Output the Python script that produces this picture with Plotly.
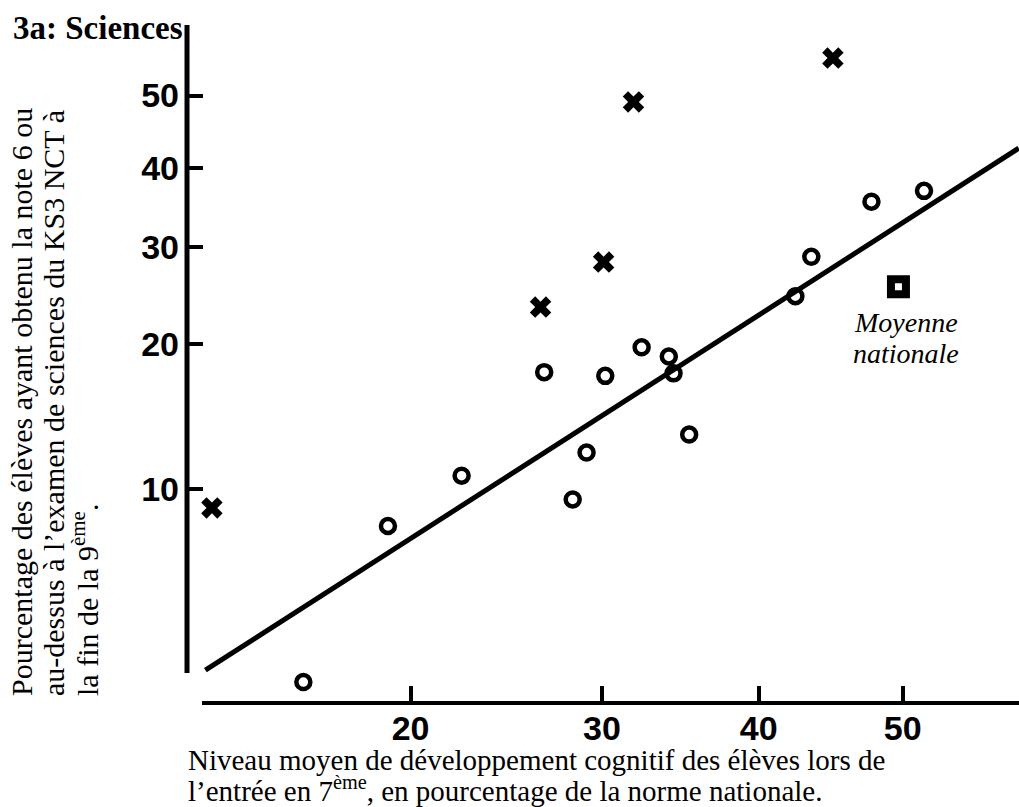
import numpy as np
import plotly.graph_objects as go

# ---- data (percentages) ----
cross_x = [12.5, 26.5, 30.1, 31.9, 45.1]
cross_y = [9.1, 23.5, 28.3, 49.1, 55.2]

circle_x = [15.6, 19.0, 22.4, 26.7, 28.3, 29.1, 30.2, 32.4, 34.1, 34.4, 35.4, 42.5, 43.6, 47.8, 51.5]
circle_y = [3.65, 8.3, 10.7, 17.6, 9.5, 12.0, 17.3, 19.7, 18.9, 17.5, 13.1, 24.6, 28.9, 35.6, 37.0]

national_x = [49.7]
national_y = [25.6]

fit_x = [12.3, 58.1]
fit_y = [3.89, 42.7]

x_ticks = [20, 30, 40, 50]
y_ticks = [10, 20, 30, 40, 50]


def logit(p):
    p = np.asarray(p, dtype=float) / 100.0
    return np.log(p / (1 - p))


# ---- layout geometry (pixels) ----
W, H = 1019, 807
X0, SX = 902.7, 355.0     # pixel of logit 0 and px per logit unit (x)
Y0, SY = 95.5, 179.2      # same for y (downwards)
XL, XR = 202, 1019        # x-axis extent
YT, YB = 25, 695          # y plotting extent
YLINE_B = 673             # bottom end of visible y-axis line
XAXIS_Y = 703
YAXIS_X = 187

BLACK = "black"
SERIF = "Liberation Serif, Times New Roman, serif"
SANS = "Liberation Sans, Arial, sans-serif"

fig = go.Figure()

fig.add_trace(go.Scatter(
    x=logit(fit_x), y=logit(fit_y), mode="lines",
    line=dict(color=BLACK, width=5), hoverinfo="skip"))

fig.add_trace(go.Scatter(
    x=logit(circle_x), y=logit(circle_y), mode="markers", cliponaxis=False,
    marker=dict(symbol="circle-open", size=14, color=BLACK,
                line=dict(color=BLACK, width=4.5))))

fig.add_trace(go.Scatter(
    x=logit(cross_x), y=logit(cross_y), mode="markers", cliponaxis=False,
    marker=dict(symbol="x", size=19, color=BLACK, line=dict(width=0))))

fig.add_trace(go.Scatter(
    x=logit(national_x), y=logit(national_y), mode="markers", cliponaxis=False,
    marker=dict(symbol="square", size=15, color="white",
                line=dict(color=BLACK, width=8))))

fig.update_layout(
    width=W, height=H,
    margin=dict(l=0, r=0, t=0, b=0),
    paper_bgcolor="white", plot_bgcolor="white",
    showlegend=False,
    xaxis=dict(
        domain=[XL / W, XR / W], anchor="free", position=1 - XAXIS_Y / H,
        range=[(XL - X0) / SX, (XR - X0) / SX],
        tickvals=list(logit(x_ticks)), ticktext=[str(v) for v in x_ticks],
        ticks="inside", ticklen=15, tickwidth=4, tickcolor=BLACK,
        showline=True, linewidth=4, linecolor=BLACK,
        showgrid=False, zeroline=False, automargin=False,
        ticklabelstandoff=-6,
        tickfont=dict(family=SANS, size=34, color=BLACK, weight="bold"),
    ),
    yaxis=dict(
        domain=[1 - YB / H, 1 - YT / H], anchor="free", position=YAXIS_X / W,
        range=[(Y0 - YB) / SY, (Y0 - YT) / SY],
        tickvals=list(logit(y_ticks)), ticktext=[str(v) for v in y_ticks],
        ticks="inside", ticklen=15, tickwidth=4, tickcolor=BLACK,
        showline=False,
        showgrid=False, zeroline=False, automargin=False,
        ticklabelstandoff=8,
        tickfont=dict(family=SANS, size=34, color=BLACK, weight="bold"),
    ),
    shapes=[dict(type="line", xref="paper", yref="paper",
                 x0=YAXIS_X / W, x1=YAXIS_X / W, y0=1 - YLINE_B / H, y1=1 - YT / H,
                 line=dict(color=BLACK, width=5), layer="above")],
)

ann = []
# title
ann.append(dict(text="<b>3a: Sciences</b>", x=11 / W, y=1 - 28 / H, xref="paper", yref="paper",
                xanchor="left", yanchor="middle", showarrow=False,
                font=dict(family=SERIF, size=33, color=BLACK)))
# y axis title (three rotated lines, bottom aligned)
ylines = [
    "Pourcentage des élèves ayant obtenu la note 6 ou",
    "au-dessus à l’examen de sciences du KS3 NCT à",
    "la fin de la 9<sup>ème</sup>.",
]
for t, cx in zip(ylines, [21, 53, 85]):
    ann.append(dict(text=t, x=cx / W, y=1 - 698 / H, xref="paper", yref="paper",
                    xanchor="center", yanchor="bottom", textangle=-90, showarrow=False,
                    font=dict(family=SERIF, size=30, color=BLACK)))
# x axis title (two lines, left aligned)
xlines = [
    "Niveau moyen de développement cognitif des élèves lors de",
    "l’entrée en 7<sup>ème</sup>, en pourcentage de la norme nationale.",
]
for t, cy in zip(xlines, [760, 789]):
    ann.append(dict(text=t, x=186 / W, y=1 - cy / H, xref="paper", yref="paper",
                    xanchor="left", yanchor="middle", showarrow=False,
                    font=dict(family=SERIF, size=29, color=BLACK)))
# national average label
for t, cy in zip(["Moyenne", "nationale"], [323, 353]):
    ann.append(dict(text="<i>" + t + "</i>", x=906 / W, y=1 - cy / H, xref="paper", yref="paper",
                    xanchor="center", yanchor="middle", showarrow=False,
                    font=dict(family=SERIF, size=28, color=BLACK)))

fig.update_layout(annotations=ann)

fig.write_html("out.html", config={"displayModeBar": False},
               post_script="document.body.style.margin='0';")
